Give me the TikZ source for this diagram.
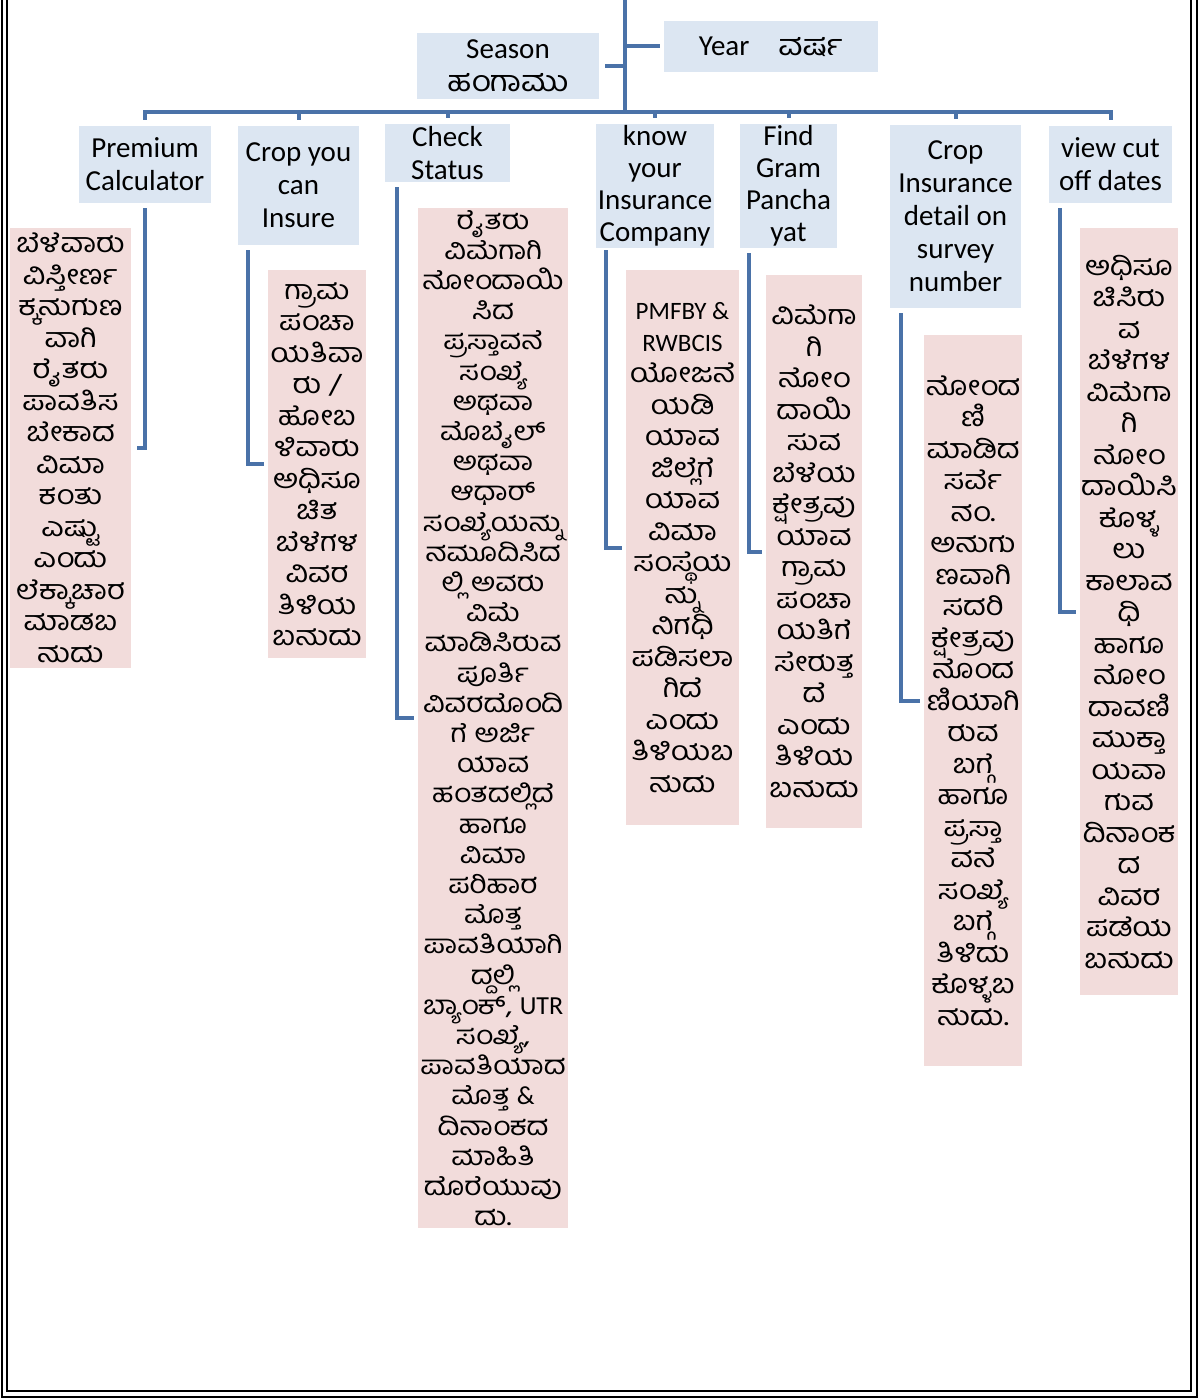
\documentclass[tikz,border=0pt]{standalone}
\usepackage{fontspec}
\setmainfont{Carlito}
\newfontfamily\kanfont[Script=Kannada,FakeStretch=1.15]{Hind Mysuru}
\definecolor{headblue}{RGB}{220,230,242}
\definecolor{infopink}{RGB}{242,220,219}
\definecolor{linkblue}{RGB}{74,114,168}
\newcommand\hdtext{\fontsize{29}{33}\selectfont}
\newcommand\kntext{\kanfont\fontsize{27}{31.5}\selectfont}
\tikzstyle{head}=[fill=headblue,inner sep=0pt,align=center,font=\hdtext]
\tikzstyle{info}=[fill=infopink,inner sep=0pt,align=center,font=\kntext]
\tikzstyle{link}=[draw=linkblue,line width=4pt]

\begin{document}
\begin{tikzpicture}[x=1pt,y=-1pt]
        \useasboundingbox (0,0) rectangle (1200,1399);
        \draw[line width=2.5pt] (2,0) |- (1197,1397) -- (1197,0);
        \draw[line width=1.2pt] (7,0) |- (1191,1391) -- (1191,0);

        \node[head,minimum width=182,minimum height=66] (season) at (508,66) {Season\\{\kanfont ಹಂಗಾಮು}};
        \node[head,minimum width=214,minimum height=51] (year) at (771,46.5) {Year\quad{\kanfont ವರ್ಷ}};

        \node[head,minimum width=132,minimum height=77] (pc) at (145,164.5) {Premium\\Calculator};
        \node[head,minimum width=121,minimum height=119] (cy) at (298.5,185.5) {Crop you\\can\\Insure};
        \node[head,minimum width=125,minimum height=58] (cs) at (447.5,153) {Check\\Status};
        \node[head,minimum width=118,minimum height=124,font=\fontsize{29}{32}\selectfont] (kc) at (655,186) {know\\your\\Insurance\\Company};
        \node[head,minimum width=97,minimum height=124,font=\fontsize{29}{32}\selectfont] (fg) at (788.5,186) {Find\\Gram\\Pancha\\yat};
        \node[head,minimum width=131,minimum height=183] (ci) at (955.5,216.5) {Crop\\Insurance\\detail on\\survey\\number};
        \node[head,minimum width=123,minimum height=77] (vc) at (1110.5,164.5) {view cut\\off dates};

        \node[info,minimum width=121,minimum height=440] (p1) at (70.5,448) {ಬೆಳೆವಾರು\\ವಿಸ್ತೀರ್ಣ\\ಕ್ಕನುಗುಣ\\ವಾಗಿ\\ರೈತರು\\ಪಾವತಿಸ\\ಬೇಕಾದ\\ವಿಮಾ\\ಕಂತು\\ಎಷ್ಟು\\ಎಂದು\\ಲೆಕ್ಕಾಚಾರ\\ಮಾಡಬ\\ಹುದು};
        \node[info,minimum width=98,minimum height=388] (p2) at (317,464) {ಗ್ರಾಮ\\ಪಂಚಾ\\ಯತಿವಾ\\ರು /\\ಹೋಬ\\ಳಿವಾರು\\ಅಧಿಸೂ\\ಚಿತ\\ಬೆಳೆಗಳ\\ವಿವರ\\ತಿಳಿಯ\\ಬಹುದು};
        \node[info,minimum width=150,minimum height=1020,font=\kanfont\fontsize{26}{30.2}\selectfont] (p3) at (493,718) {ರೈತರು\\ವಿಮೆಗಾಗಿ\\ನೋಂದಾಯಿ\\ಸಿದ\\ಪ್ರಸ್ತಾವನೆ\\ಸಂಖ್ಯೆ\\ಅಥವಾ\\ಮೊಬೈಲ್\\ಅಥವಾ\\ಆಧಾರ್\\ಸಂಖ್ಯೆಯನ್ನು\\ನಮೂದಿಸಿದ\\ಲ್ಲಿ ಅವರು\\ವಿಮೆ\\ಮಾಡಿಸಿರುವ\\ಪೂರ್ತಿ\\ವಿವರದೊಂದಿ\\ಗೆ ಅರ್ಜಿ\\ಯಾವ\\ಹಂತದಲ್ಲಿದೆ\\ಹಾಗೂ\\ವಿಮಾ\\ಪರಿಹಾರ\\ಮೊತ್ತ\\ಪಾವತಿಯಾಗಿ\\ದ್ದಲ್ಲಿ\\ಬ್ಯಾಂಕ್, {\rmfamily UTR}\\ಸಂಖ್ಯೆ,\\ಪಾವತಿಯಾದ\\ಮೊತ್ತ {\rmfamily\&}\\ದಿನಾಂಕದ\\ಮಾಹಿತಿ\\ದೊರೆಯುವು\\ದು.};
        \node[info,minimum width=113,minimum height=555] (p4) at (682.5,547.5) {{\rmfamily\fontsize{25}{31.5}\selectfont PMFBY \&}\\{\rmfamily\fontsize{25}{31.5}\selectfont RWBCIS}\\ಯೋಜನೆ\\ಯಡಿ\\ಯಾವ\\ಜಿಲ್ಲೆಗೆ\\ಯಾವ\\ವಿಮಾ\\ಸಂಸ್ಥೆಯ\\ನ್ನು\\ನಿಗಧಿ\\ಪಡಿಸಲಾ\\ಗಿದೆ\\ಎಂದು\\ತಿಳಿಯಬ\\ಹುದು};
        \node[info,minimum width=96,minimum height=553] (p5) at (814,551.5) {ವಿಮೆಗಾ\\ಗಿ\\ನೋಂ\\ದಾಯಿ\\ಸುವ\\ಬೆಳೆಯ\\ಕ್ಷೇತ್ರವು\\ಯಾವ\\ಗ್ರಾಮ\\ಪಂಚಾ\\ಯತಿಗೆ\\ಸೇರುತ್ತ\\ದೆ\\ಎಂದು\\ತಿಳಿಯ\\ಬಹುದು};
        \node[info,minimum width=98,minimum height=731] (p6) at (973,700.5) {ನೋಂದ\\ಣಿ\\ಮಾಡಿದ\\ಸರ್ವೆ\\ನಂ.\\ಅನುಗು\\ಣವಾಗಿ\\ಸದರಿ\\ಕ್ಷೇತ್ರವು\\ನೊಂದ\\ಣಿಯಾಗಿ\\ರುವ\\ಬಗ್ಗೆ\\ಹಾಗೂ\\ಪ್ರಸ್ತಾ\\ವನೆ\\ಸಂಖ್ಯೆ\\ಬಗ್ಗೆ\\ತಿಳಿದು\\ಕೊಳ್ಳಬ\\ಹುದು.};
        \node[info,minimum width=98,minimum height=767] (p7) at (1129,611.5) {ಅಧಿಸೂ\\ಚಿಸಿರು\\ವ\\ಬೆಳೆಗಳ\\ವಿಮೆಗಾ\\ಗಿ\\ನೋಂ\\ದಾಯಿಸಿ\\ಕೊಳ್ಳ\\ಲು\\ಕಾಲಾವ\\ಧಿ\\ಹಾಗೂ\\ನೋಂ\\ದಾವಣಿ\\ಮುಕ್ತಾ\\ಯವಾ\\ಗುವ\\ದಿನಾಂಕ\\ದ\\ವಿವರ\\ಪಡೆಯ\\ಬಹುದು};

        \coordinate (top) at (625,0);
        \coordinate (hub) at (625,112);
        \draw[link] (top) -- (hub);
        \draw[link] (top |- year.west) -- ([xshift=-4pt]year.west);
        \draw[link] (625,66) -- ([xshift=6pt]season.east);
        \draw[link] ([xshift=-2pt]pc.north |- hub) -- ([xshift=2pt]vc.north |- hub);
        \foreach \n in {pc,cy,cs,kc,fg,ci,vc}
          \draw[link] (\n.north |- hub) -- ([yshift=6pt]\n.north);

        \draw[link] ([yshift=-5pt]pc.south) |- ([xshift=6pt]p1.east);
        \draw[link] ([xshift=10pt,yshift=-5pt]cy.south west) |- ([xshift=-4pt]p2.west);
        \draw[link] ([xshift=12pt,yshift=-5pt]cs.south west) |- ([xshift=-4pt]p3.west);
        \draw[link] ([xshift=10pt,yshift=-2pt]kc.south west) |- ([xshift=-4pt]p4.west);
        \draw[link] ([xshift=9pt,yshift=-5pt]fg.south west) |- ([xshift=-4pt]p5.west);
        \draw[link] ([xshift=11pt,yshift=-5pt]ci.south west) |- ([xshift=-4pt]p6.west);
        \draw[link] ([xshift=11pt,yshift=-5pt]vc.south west) |- ([xshift=-4pt]p7.west);
      \end{tikzpicture}
\end{document}
